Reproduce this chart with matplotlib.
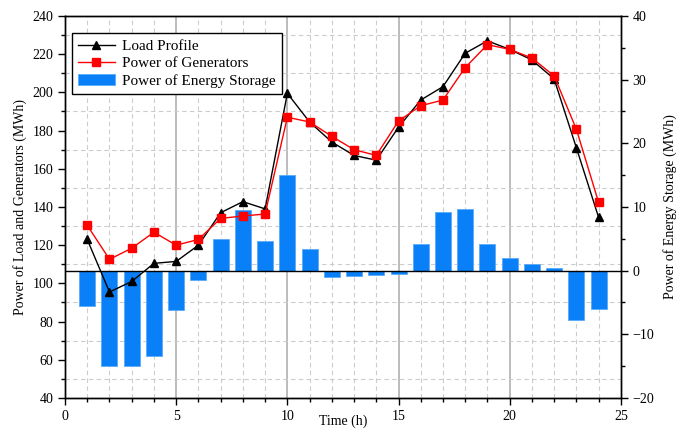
import numpy as np
import matplotlib
matplotlib.use('Agg')
import matplotlib.pyplot as plt
from matplotlib.ticker import MultipleLocator

hours = np.arange(1, 25)
load = [123, 95.5, 101, 110.5, 111.5, 120, 137, 142.8, 139, 199.5, 184.5, 174,
        167, 164.5, 181.8, 196, 203, 220.5, 227, 222.5, 217, 207, 171, 134.6]
generators = [130.4, 112.6, 118.4, 126.8, 120, 123, 134, 135.3, 136.3, 187, 184.5, 177,
              170, 167, 185, 193, 196, 213, 225, 222.5, 218, 208.6, 180.7, 142.4]
storage = [-5.6, -15.0, -15.0, -13.4, -6.2, -1.4, 5.0, 9.5, 4.7, 15.0, 3.4, -1.0,
           -0.9, -0.75, -0.6, 4.2, 9.2, 9.7, 4.2, 2.0, 1.0, 0.4, -7.7, -6.0]

plt.rcParams['font.family'] = ['Liberation Serif', 'DejaVu Serif']
plt.rcParams['font.size'] = 10

fig = plt.figure(figsize=(6.8, 4.32), dpi=100)
ax = fig.add_axes([0.0956, 0.0787, 0.8174, 0.8843])
ax2 = ax.twinx()

# grid on the back axis, so it sits behind the bars
for x in range(1, 25):
    if x % 5 == 0:
        ax2.axvline(x, color='#b0b0b0', lw=1.2, zorder=0)
    else:
        ax2.axvline(x, color='#cccccc', lw=0.8, ls=(0, (4, 3)), zorder=0)
for y in range(50, 240, 20):
    # left-axis value converted to right-axis units
    ax2.axhline((y - 40) * 0.3 - 20, color='#cccccc', lw=0.8, ls=(0, (4, 3)), zorder=0)

bars = ax2.bar(hours, storage, width=0.72, color='#0a80f8', edgecolor='#5aaaf8',
               lw=0.6, zorder=2, label='Power of Energy Storage')
ax2.axhline(0, color='black', lw=1.0, zorder=3)
ax2.set_ylim(-20, 40)
ax2.yaxis.set_major_locator(MultipleLocator(10))
ax2.yaxis.set_minor_locator(MultipleLocator(5))
ax2.set_ylabel('Power of Energy Storage (MWh)', labelpad=6)

ax.set_zorder(ax2.get_zorder() + 1)
ax.patch.set_visible(False)
l1, = ax.plot(hours, load, color='black', lw=1.0, marker='^', ms=6,
              label='Load Profile', zorder=4)
l2, = ax.plot(hours, generators, color='red', lw=1.0, marker='s', ms=5.5,
              label='Power of Generators', zorder=5)
ax.set_xlim(0, 25)
ax.set_ylim(40, 240)
ax.xaxis.set_major_locator(MultipleLocator(5))
ax.xaxis.set_minor_locator(MultipleLocator(1))
ax.yaxis.set_major_locator(MultipleLocator(20))
ax.yaxis.set_minor_locator(MultipleLocator(10))
ax.set_ylabel('Power of Load and Generators (MWh)')
ax.set_xlabel('Time (h)')
ax.xaxis.set_label_coords(0.5, -0.042)

for a in (ax, ax2):
    a.tick_params(which='major', direction='out', length=5, width=1)
    a.tick_params(which='minor', direction='out', length=3, width=1)
    for s in a.spines.values():
        s.set_linewidth(1.0)

leg = ax.legend(handles=[l1, l2, bars], loc='upper left',
                bbox_to_anchor=(0.0126, 0.955), borderaxespad=0, fancybox=False,
                edgecolor='black', framealpha=1, fontsize=11, handlelength=2.4,
                borderpad=0.4, labelspacing=0.25, handletextpad=0.5)
leg.get_frame().set_linewidth(1.0)

fig.savefig('out.png', dpi=100)
